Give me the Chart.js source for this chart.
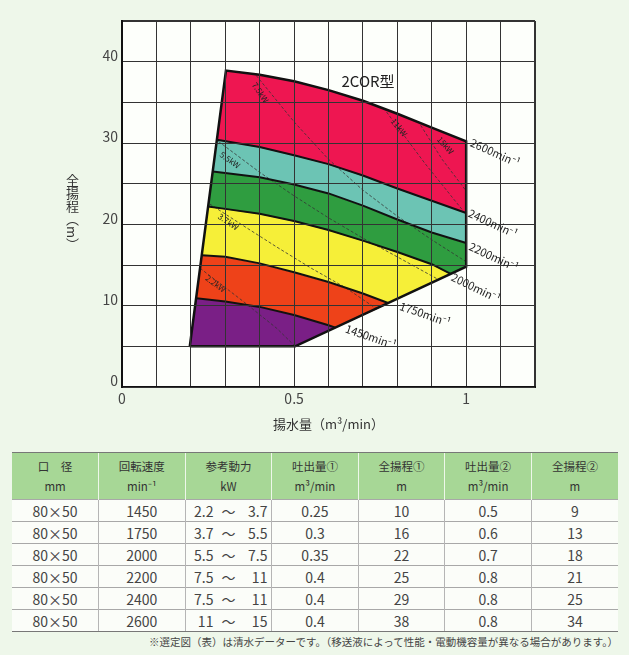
<!DOCTYPE html>
<html lang="ja">
<head>
<meta charset="utf-8">
<title>2COR型 選定図</title>
<script src="https://cdn.jsdelivr.net/npm/chart.js@4.4.1/dist/chart.umd.min.js"></script>
<style>
body { margin: 0; background: #eef7ea; font-family: "Noto Sans CJK JP", sans-serif; color: #333; }
#wrap { position: relative; width: 629px; height: 655px; overflow: hidden; }
#chartBox { position: absolute; left: 0; top: 0; width: 629px; height: 440px; }
#yTitle { position: absolute; left: 66px; top: 174px; writing-mode: vertical-rl; font-size: 13px; line-height: 1; color: #333; }
table { position: absolute; left: 12px; top: 452px; width: 606px; border-collapse: collapse; table-layout: fixed; }
th { background: #a7d796; font-weight: normal; font-size: 11.5px; line-height: 20px; height: 46px; padding: 0; color: #333;
     border-left: 1px solid #eef7ea; border-top: 1.5px solid #777; }
th:first-child, td:first-child { border-left: none; }
td { background: #fbfdf9; font-size: 14px; height: 21px; padding: 0; text-align: center; color: #444;
     border-top: 1px solid #a8a8a8; border-left: 1px solid #b5b5b5; }
tr:last-child td { border-bottom: 1.5px solid #777; }
.a, .b { display: inline-block; width: 24px; text-align: right; }
.t { display: inline-block; width: 30px; text-align: center; }
#note { position: absolute; right: 11px; top: 634px; font-size: 10.5px; color: #444; }
</style>
</head>
<body>
<div id="wrap">
  <div id="chartBox"><canvas id="pumpChart"></canvas></div>
  <div id="yTitle">全揚程（m）</div>
  <table id="spec"></table>
  <div id="note">※選定図（表）は清水データーです。（移送液によって性能・電動機容量が異なる場合があります。）</div>
</div>
<script>
// 性能曲線 [吐出量 m3/min, 全揚程 m]
const topCurve  = [[0.302, 38.9], [0.4, 38.4], [0.5, 37.6], [0.6, 36.5], [0.7, 35.2], [0.8, 33.6], [0.9, 31.9], [1.0, 30.2]];
const curve2400 = [[0.276, 30.4], [0.4, 29.5], [0.5, 28.5], [0.6, 27.4], [0.7, 26.0], [0.8, 24.4], [0.9, 22.9], [1.0, 21.4]];
const curve2200 = [[0.264, 26.5], [0.4, 25.8], [0.5, 24.9], [0.6, 23.8], [0.7, 22.3], [0.8, 20.6], [0.9, 19.0], [1.0, 17.7]];
const curve2000 = [[0.250, 22.2], [0.3, 21.9], [0.4, 21.3], [0.5, 20.4], [0.6, 19.3], [0.7, 18.0], [0.8, 16.6], [0.9, 15.1], [0.955, 13.9]];
const curve1750 = [[0.232, 16.2], [0.3, 16.0], [0.4, 15.2], [0.5, 14.1], [0.6, 12.9], [0.7, 11.5], [0.775, 10.3]];
const curve1450 = [[0.216, 10.9], [0.3, 10.5], [0.4, 9.85], [0.5, 8.85], [0.6, 7.6], [0.62, 7.3]];
const rightCorner = [1.0, 14.8];
const footRight = [0.503, 5.0];
const footLeft = [0.197, 5.0];

// 動力線 (破線)
const kw15 = [[0.86, 32.7], [0.93, 28.0], [1.0, 24.1]];
const kw11 = [[0.76, 34.3], [0.88, 27.5], [1.0, 21.2]];
const kw75 = [[0.39, 38.3], [0.5, 32.6], [0.6, 28.0], [0.7, 24.2], [0.8, 21.0], [0.9, 18.1], [1.0, 15.4]];
const kw55 = [[0.28, 30.2], [0.4, 26.4], [0.5, 23.5], [0.6, 20.8], [0.7, 18.3], [0.8, 16.0], [0.92, 13.2]];
const kw37 = [[0.255, 22.5], [0.35, 19.9], [0.45, 17.2], [0.55, 14.6], [0.65, 12.2], [0.74, 9.6]];
const kw22 = [[0.227, 14.6], [0.35, 10.6], [0.45, 7.2], [0.503, 5.0]];

const kwLabels = ['15kW', '11kW', '7.5kW', '5.5kW', '3.7kW', '2.2kW'];
const rpmLabels = ['2600min⁻¹', '2400min⁻¹', '2200min⁻¹', '2000min⁻¹', '1750min⁻¹', '1450min⁻¹'];
const modelName = '2COR型';

// 表
const tableHead = [['口　径', 'mm'], ['回転速度', 'min⁻¹'], ['参考動力', 'kW'], ['吐出量①', 'm³/min'], ['全揚程①', 'm'], ['吐出量②', 'm³/min'], ['全揚程②', 'm']];
const bore = ['80×50', '80×50', '80×50', '80×50', '80×50', '80×50'];
const rpm = ['1450', '1750', '2000', '2200', '2400', '2600'];
const powerMin = ['2.2', '3.7', '5.5', '7.5', '7.5', '11'];
const powerMax = ['3.7', '5.5', '7.5', '11', '11', '15'];
const flow1 = ['0.25', '0.3', '0.35', '0.4', '0.4', '0.4'];
const head1 = ['10', '16', '22', '25', '29', '38'];
const flow2 = ['0.5', '0.6', '0.7', '0.8', '0.8', '0.8'];
const head2 = ['9', '13', '18', '21', '25', '34'];

// ---- table
let html = '<tr>' + tableHead.map(h => '<th>' + h[0] + '<br>' + h[1] + '</th>').join('') + '</tr>';
for (let i = 0; i < rpm.length; i++) {
    html += '<tr><td>' + bore[i] + '</td><td>' + rpm[i] + '</td>' +
        '<td><span class="a">' + powerMin[i] + '</span><span class="t">～</span><span class="b">' + powerMax[i] + '</span></td>' +
        '<td>' + flow1[i] + '</td><td>' + head1[i] + '</td><td>' + flow2[i] + '</td><td>' + head2[i] + '</td></tr>';
}
document.getElementById('spec').innerHTML = html;

// ---- chart
const toXY = pts => pts.map(([x, y]) => ({x, y}));
const rev = pts => pts.slice().reverse();

const bands = [
    topCurve.concat(rev(curve2400)),
    curve2400.concat(rev(curve2200)),
    curve2200.concat([rightCorner], rev(curve2000)),
    curve2000.concat(rev(curve1750)),
    curve1750.concat(rev(curve1450)),
    curve1450.concat([footRight, footLeft])
];
const bandColors = ['#ee1651', '#6cc4b4', '#2f9d40', '#f6ef38', '#ee4219', '#7a1f86'];
const outline = [footLeft].concat(topCurve, [rightCorner, footRight, footLeft]);

const datasets = [];
datasets.push({data: toXY(outline), borderColor: '#111', borderWidth: 2.5, order: 0});
[curve2400, curve2200, curve2000, curve1750, curve1450].forEach(c => {
    datasets.push({data: toXY(c), borderColor: '#111', borderWidth: 2, order: 1});
});
[kw15, kw11, kw75, kw55, kw37, kw22].forEach(p => {
    datasets.push({data: toXY(p), borderColor: '#333', borderWidth: 0.8, borderDash: [3, 2], order: 2});
});
bands.forEach((b, i) => {
    datasets.push({data: toXY(b), borderColor: bandColors[i], backgroundColor: bandColors[i], borderWidth: 1, fill: 'shape', order: 3});
});

// where the texts sit, in data units, with their angle in degrees
const notes = {
    model: {at: [0.715, 37.6]},
    kw: [
        {at: [0.94, 29.7], angle: 48},
        {at: [0.805, 31.9], angle: 51},
        {at: [0.402, 36.2], angle: 56},
        {at: [0.314, 27.9], angle: 35},
        {at: [0.309, 20.3], angle: 34},
        {at: [0.272, 12.7], angle: 36}
    ],
    rpm: [
        {at: [1.084, 28.8], angle: 24},
        {at: [1.078, 20.1], angle: 25},
        {at: [1.080, 16.0], angle: 25},
        {at: [1.028, 12.2], angle: 26},
        {at: [0.881, 8.94], angle: 19},
        {at: [0.723, 6.17], angle: 19}
    ]
};

const notesPlugin = {
    id: 'notes',
    beforeDraw(chart) {
        const {ctx, chartArea: a} = chart;
        ctx.save();
        ctx.fillStyle = '#fdfffb';
        ctx.fillRect(a.left, a.top, a.width, a.height);
        ctx.restore();
    },
    afterDraw(chart) {
        const {ctx, scales: {x, y}} = chart;
        const put = (text, at, angle, font) => {
            ctx.save();
            ctx.translate(x.getPixelForValue(at[0]), y.getPixelForValue(at[1]));
            ctx.rotate(angle * Math.PI / 180);
            ctx.font = font;
            ctx.fillStyle = '#222';
            ctx.textAlign = 'center';
            ctx.textBaseline = 'middle';
            ctx.fillText(text, 0, 0);
            ctx.restore();
        };
        put(modelName, notes.model.at, 0, '15px "Noto Sans CJK JP"');
        kwLabels.forEach((t, i) => put(t, notes.kw[i].at, notes.kw[i].angle, '8px "Noto Sans CJK JP"'));
        rpmLabels.forEach((t, i) => put(t, notes.rpm[i].at, notes.rpm[i].angle, '11px "Noto Sans CJK JP"'));
    }
};

const tickFont = {family: '"Noto Sans CJK JP", sans-serif', size: 14};

new Chart(document.getElementById('pumpChart'), {
    type: 'line',
    data: {datasets},
    options: {
        responsive: true,
        maintainAspectRatio: false,
        animation: false,
        layout: {padding: {left: 0, right: 94, top: 21, bottom: 0}},
        elements: {point: {radius: 0}, line: {tension: 0}},
        plugins: {legend: {display: false}, tooltip: {enabled: false}},
        events: [],
        scales: {
            x: {
                type: 'linear',
                min: 0,
                max: 1.2,
                afterFit: s => { s.height = 53; },
                grid: {color: '#333', drawTicks: false, z: 1,
                       lineWidth: c => (c.tick && Math.abs(c.tick.value - 1.2) < 1e-6) ? 2 : 1},
                border: {color: '#111', width: 2, z: 1},
                ticks: {
                    stepSize: 0.1,
                    padding: 3,
                    color: '#444',
                    font: tickFont,
                    maxRotation: 0,
                    autoSkip: false,
                    callback: v => {
                        const r = Math.round(v * 10);
                        return r === 0 ? '0' : r === 5 ? '0.5' : r === 10 ? '1' : '';
                    }
                },
                title: {display: true, text: '揚水量（m³/min）', color: '#333',
                        font: {family: '"Noto Sans CJK JP", sans-serif', size: 13}, padding: {top: 4, bottom: 8}}
            },
            y: {
                type: 'linear',
                min: 0,
                max: 45,
                afterFit: s => { s.width = 122; },
                grid: {color: '#333', drawTicks: false, z: 1,
                       lineWidth: c => (c.tick && c.tick.value === 45) ? 2 : 1},
                border: {color: '#111', width: 2, z: 1},
                ticks: {
                    stepSize: 5,
                    padding: 4,
                    labelOffset: -6,
                    color: '#444',
                    font: tickFont,
                    callback: v => (v % 10 === 0 ? String(v) : '')
                }
            }
        }
    },
    plugins: [notesPlugin]
});
</script>
</body>
</html>
